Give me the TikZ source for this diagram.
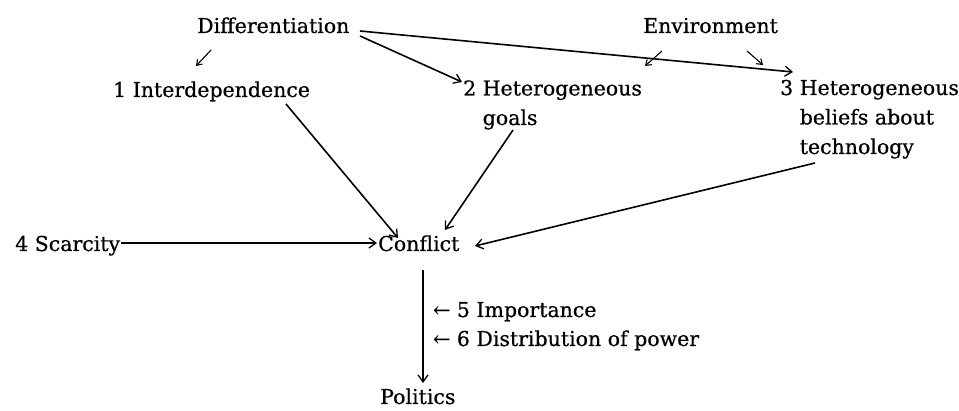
\documentclass[tikz,border=0pt]{standalone}
\usepackage{fontspec}
\setmainfont{DejaVu Serif}[FakeBold=0.6]
\usetikzlibrary{arrows.meta}
\begin{document}
\begin{tikzpicture}[x=1pt,y=-1pt,
  every node/.style={inner sep=0pt,anchor=base west,font=\fontsize{20.5}{29.5}\selectfont},
  multi/.style={align=left},
  main/.style={line width=1.6pt,-{Straight Barb[length=7pt,width=10pt,line width=1.3pt]}},
  small/.style={line width=1.1pt,-{Straight Barb[length=5pt,width=7pt,line width=1.1pt]}}]
\useasboundingbox[fill=white] (0,0) rectangle (959,411);
\node (diff) at (197,33) {Differentiation};
\node (env) at (643,33) {Environment};
\node (n1) at (113,97) {1 Interdependence};
\node[multi] (n2) at (463,125) {2 Heterogeneous\\\phantom{2 }goals};
\node[multi] (n3) at (780,154) {3 Heterogeneous\\\phantom{3 }beliefs about\\\phantom{3 }technology};
\node (scar) at (15,251) {4 Scarcity};
\node (conf) at (378,251) {Conflict};
\node (imp) at (433,317) {← 5 Importance};
\node (dist) at (433,346) {← 6 Distribution of power};
\node (pol) at (380,404) {Politics};
% connectors
\draw[small] ([shift={(14,17)}]diff.base west) -- ([shift={(83,-31)}]n1.base west);
\draw[main] ([shift={(163,3)}]diff.base west) -- ([shift={(-1,-43)}]n2.base west);
\draw[main] ([shift={(163,-2)}]diff.base west) -- ([shift={(13,-82)}]n3.base west);
\draw[small] ([shift={(19,18)}]env.base west) -- ([shift={(182,-59)}]n2.base west);
\draw[small] ([shift={(104,18)}]env.base west) -- ([shift={(-17,-89)}]n3.base west);
\draw[main] ([shift={(173,7)}]n1.base west) -- ([shift={(20,-13)}]conf.base west);
\draw[main] ([shift={(50,5)}]n2.base west) -- ([shift={(67,-21)}]conf.base west);
\draw[main] ([shift={(35,9)}]n3.base west) -- ([shift={(97,-5)}]conf.base west);
\draw[main] ([shift={(106,-8)}]scar.base west) -- ([shift={(-1,-8)}]conf.base west);
\draw[main] ([shift={(45,19)}]conf.base west) -- ([shift={(43,-21)}]pol.base west);
\end{tikzpicture}
\end{document}
